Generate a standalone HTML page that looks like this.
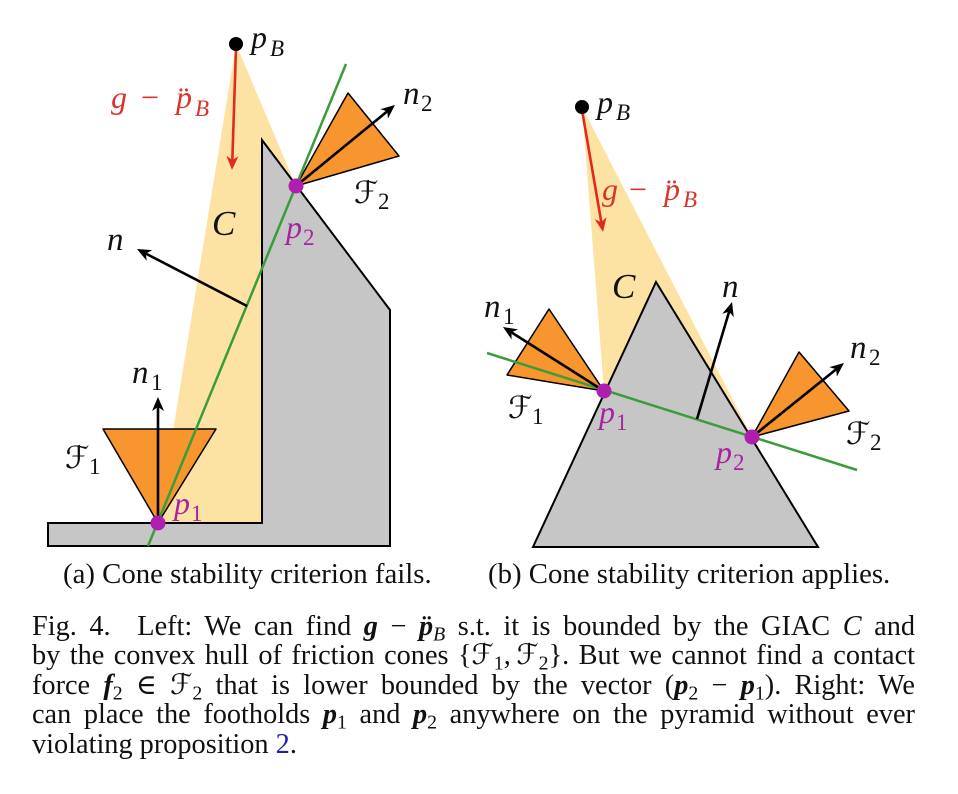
<!DOCTYPE html>
<html><head><meta charset="utf-8">
<style>
html,body{margin:0;padding:0;background:#fff;}
#wrap{position:relative;width:958px;height:794px;overflow:hidden;background:#fff;}
svg{position:absolute;left:0;top:0;}
.lab{font-family:"Liberation Serif","DejaVu Serif","DejaVu Sans",serif;font-style:italic;}
.cap{position:absolute;left:32px;width:883px;font-family:"Liberation Serif","DejaVu Serif","DejaVu Sans",serif;font-size:28.3px;line-height:29.5px;color:#111;white-space:nowrap;text-align:justify;text-align-last:justify;}
.cap sub{font-size:0.7em;line-height:0;vertical-align:-0.28em;}
.cap b i, .cap i b{font-weight:bold;font-style:italic;}
</style></head><body><div id="wrap">
<svg width="958" height="794" viewBox="0 0 958 794" xmlns="http://www.w3.org/2000/svg">
<!-- LEFT FIGURE -->
<polygon points="236,44 296,186 320,300 262,523 158,523" fill="#fde3a3"/>
<polygon points="48,523 262,523 262,140 390,310 390,546 48,546" fill="#c6c6c6" stroke="#000" stroke-width="2" stroke-linejoin="miter"/>
<polygon points="158,523 103,429 216,429" fill="#f7952f" stroke="#000" stroke-width="1.5" stroke-linejoin="round"/>
<polygon points="296,186 348,93 399,156" fill="#f7952f" stroke="#000" stroke-width="1.5" stroke-linejoin="round"/>
<line x1="148" y1="546" x2="346" y2="64" stroke="#3a9c3a" stroke-width="2.5"/>
<g stroke="#000" stroke-width="2.6" fill="none">
<line x1="158" y1="523" x2="158" y2="407"/>
<line x1="296" y1="186" x2="387.3" y2="111.3"/>
<line x1="247" y1="306" x2="145.9" y2="253.6"/>
</g>
<g fill="#000">
<polygon points="158,397 164,411 158,407 152,411"/>
<polygon points="395,105 387.96,118.51 387.26,111.33 380.36,109.23"/>
<polygon points="137,249 152.19,250.11 145.88,253.6 146.67,260.77"/>
</g>
<line x1="236" y1="48" x2="232.33" y2="160" stroke="#e02a1e" stroke-width="2.6"/>
<polygon points="232,170 238.46,156.2 232.33,160.0 226.46,155.8" fill="#e02a1e"/>
<circle cx="236" cy="44" r="7" fill="#000"/>
<circle cx="296" cy="186" r="7.5" fill="#b01eb0"/>
<circle cx="158" cy="523" r="7.5" fill="#b01eb0"/>

<!-- RIGHT FIGURE -->
<polygon points="582,107 604,391 680,500 752,437" fill="#fde3a3"/>
<polygon points="656,282 818,547 533,547" fill="#c6c6c6" stroke="#000" stroke-width="2" stroke-linejoin="miter"/>
<polygon points="604,391 549,309 507,375" fill="#f7952f" stroke="#000" stroke-width="1.5" stroke-linejoin="round"/>
<polygon points="752,437 799,352 849,411" fill="#f7952f" stroke="#000" stroke-width="1.5" stroke-linejoin="round"/>
<line x1="487" y1="353" x2="857" y2="470" stroke="#3a9c3a" stroke-width="2.5"/>
<g stroke="#000" stroke-width="2.6" fill="none">
<line x1="604" y1="391" x2="511.45" y2="332.35"/>
<line x1="697" y1="419" x2="729.13" y2="311.58"/>
<line x1="752" y1="437" x2="836.21" y2="369.27"/>
</g>
<g fill="#000">
<polygon points="503,327 518.04,329.42 511.45,332.35 511.62,339.56"/>
<polygon points="732,302 733.75,317.13 729.13,311.58 722.25,313.69"/>
<polygon points="844,363 836.85,376.45 836.21,369.27 829.33,367.09"/>
</g>
<line x1="582" y1="110" x2="601.3" y2="222.15" stroke="#e02a1e" stroke-width="2.6"/>
<polygon points="603,232 606.54,217.18 601.30,222.15 594.72,219.22" fill="#e02a1e"/>
<circle cx="582" cy="107" r="7" fill="#000"/>
<circle cx="604" cy="391" r="7.5" fill="#b01eb0"/>
<circle cx="752" cy="437" r="7.5" fill="#b01eb0"/>

<!-- LABELS LEFT -->
<g class="lab" fill="#111">
<text x="251" y="48" font-size="32">p</text>
<text x="270" y="56" font-size="23">B</text>
<text x="212" y="235" font-size="35">C</text>
<text x="107" y="250" font-size="33">n</text>
<text x="403" y="104" font-size="33">n</text>
<text x="421" y="111" font-size="23" font-style="normal">2</text>
<text x="354" y="203" font-size="31">ℱ</text>
<text x="378" y="209" font-size="23" font-style="normal">2</text>
<text x="132" y="383" font-size="33">n</text>
<text x="151" y="390" font-size="23" font-style="normal">1</text>
<text x="65" y="468" font-size="31">ℱ</text>
<text x="89" y="474" font-size="23" font-style="normal">1</text>
</g>
<g class="lab" fill="#d8352b">
<text x="111" y="108" font-size="32">g</text>
<text x="141" y="108" font-size="32" font-style="normal">−</text>
<text x="176" y="108" font-size="32">p̈</text>
<text x="195" y="116" font-size="23">B</text>
</g>
<g class="lab" fill="#a8239f">
<text x="286" y="238" font-size="32">p</text>
<text x="303" y="245" font-size="23" font-style="normal">2</text>
<text x="174" y="514" font-size="32">p</text>
<text x="191" y="521" font-size="23" font-style="normal">1</text>
</g>

<!-- LABELS RIGHT -->
<g class="lab" fill="#111">
<text x="597" y="113" font-size="32">p</text>
<text x="616" y="120" font-size="23">B</text>
<text x="612" y="298" font-size="35">C</text>
<text x="722" y="297" font-size="33">n</text>
<text x="484" y="317" font-size="33">n</text>
<text x="503" y="324" font-size="23" font-style="normal">1</text>
<text x="508" y="418" font-size="31">ℱ</text>
<text x="532" y="424" font-size="23" font-style="normal">1</text>
<text x="850" y="358" font-size="33">n</text>
<text x="869" y="365" font-size="23" font-style="normal">2</text>
<text x="846" y="444" font-size="31">ℱ</text>
<text x="870" y="450" font-size="23" font-style="normal">2</text>
</g>
<g class="lab" fill="#d8352b">
<text x="602" y="200" font-size="32">g</text>
<text x="629" y="200" font-size="32" font-style="normal">−</text>
<text x="664" y="200" font-size="32">p̈</text>
<text x="683" y="207" font-size="23">B</text>
</g>
<g class="lab" fill="#a8239f">
<text x="599" y="423" font-size="32">p</text>
<text x="616" y="430" font-size="23" font-style="normal">1</text>
<text x="716" y="463" font-size="32">p</text>
<text x="733" y="470" font-size="23" font-style="normal">2</text>
</g>

<!-- SUB-CAPTIONS -->
<text x="63" y="583" font-family="Liberation Serif, serif" font-size="28.8" fill="#111">(a) Cone stability criterion fails.</text>
<text x="488" y="583" font-family="Liberation Serif, serif" font-size="28.8" fill="#111">(b) Cone stability criterion applies.</text>
</svg>

<div class="cap" style="top:611.7px;">Fig. 4.&ensp; Left: We can find <b><i>g</i></b> − <b><i>p̈</i></b><sub><i>B</i></sub> s.t. it is bounded by the GIAC <i>C</i> and</div>
<div class="cap" style="top:641.2px;">by the convex hull of friction cones {ℱ<sub>1</sub>,&#8201;ℱ<sub>2</sub>}. But we cannot find a contact</div>
<div class="cap" style="top:670.7px;">force <b><i>f</i></b><sub>2</sub> ∈ ℱ<sub>2</sub> that is lower bounded by the vector (<b><i>p</i></b><sub>2</sub> − <b><i>p</i></b><sub>1</sub>). Right: We</div>
<div class="cap" style="top:700.2px;">can place the footholds <b><i>p</i></b><sub>1</sub> and <b><i>p</i></b><sub>2</sub> anywhere on the pyramid without ever</div>
<div class="cap" style="top:729.7px;text-align:left;text-align-last:left;">violating proposition <span style="color:#1f1fa8;">2</span>.</div>
</div></body></html>
